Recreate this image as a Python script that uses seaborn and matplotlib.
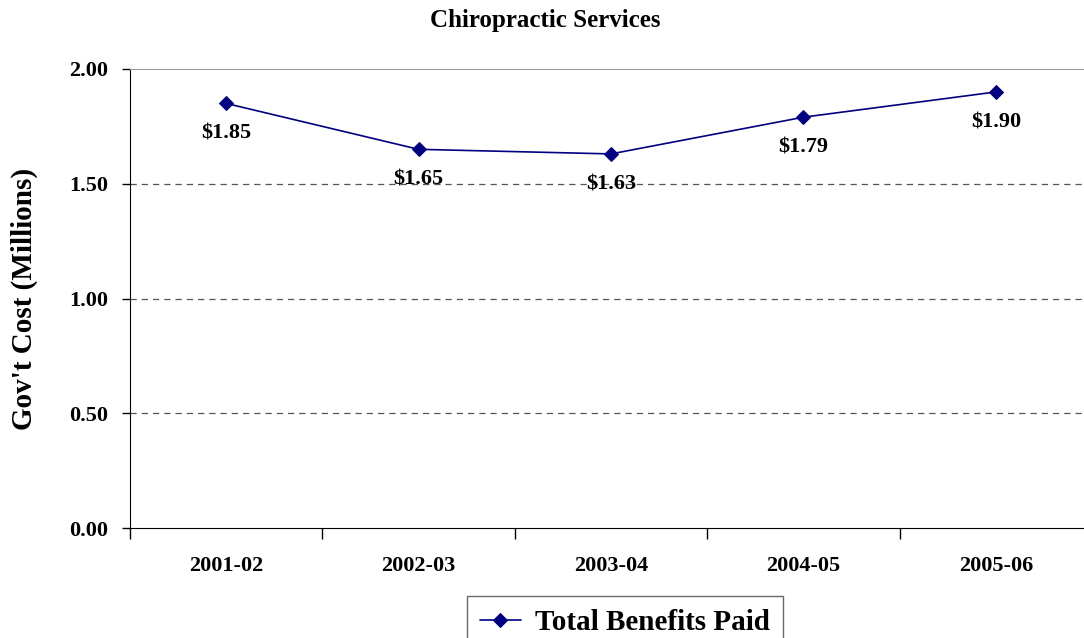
import matplotlib
matplotlib.use('Agg')
import matplotlib.pyplot as plt
import seaborn as sns
import pandas as pd

# 数据
years = ['2001-02', '2002-03', '2003-04', '2004-05', '2005-06']
benefits = [1.85, 1.65, 1.63, 1.79, 1.90]
series_name = 'Total Benefits Paid'

df = pd.DataFrame({'year': years, 'cost': benefits})
df['x'] = range(len(years))

sns.set_style('white')
plt.rcParams['font.family'] = ['Liberation Serif', 'DejaVu Serif']
plt.rcParams['font.weight'] = 'bold'
plt.rcParams['text.color'] = 'black'
plt.rcParams['xtick.color'] = 'black'
plt.rcParams['ytick.color'] = 'black'
plt.rcParams['axes.labelcolor'] = 'black'

fig = plt.figure(figsize=(10.84, 6.38), dpi=100)
ax = fig.add_axes([130 / 1084, 1 - 528 / 638, 962 / 1084, (528 - 69) / 638])

sns.lineplot(data=df, x='x', y='cost', ax=ax, color='#000080', marker='D',
             markersize=7, linewidth=1.2, markeredgecolor='#000080',
             label=series_name, legend=False)

for xi, v in zip(df['x'], df['cost']):
    ax.annotate(f'${v:.2f}', (xi, v), xytext=(0, -22), textcoords='offset points',
                ha='center', va='center', fontsize=16, fontweight='bold')

ax.set_xlim(-0.5, len(years) - 0.5)
ax.set_ylim(0, 2.0)
ax.set_yticks([0, 0.5, 1.0, 1.5, 2.0])
ax.set_yticklabels([f'{t:.2f}' for t in [0, 0.5, 1.0, 1.5, 2.0]], fontsize=16, fontweight='bold')
ax.set_xticks(range(len(years)))
ax.set_xticklabels(years, fontsize=16, fontweight='bold')
ax.tick_params(axis='x', length=0, pad=20)
ax.tick_params(axis='y', length=6, width=1, direction='out', left=True, pad=10)
# 分类边界刻度
ax.set_xticks([i - 0.5 for i in range(len(years))], minor=True)
ax.tick_params(axis='x', which='minor', length=8, width=1, direction='out', bottom=True)

for g in [0.5, 1.0, 1.5]:
    ax.axhline(g, color='#555555', linestyle=(0, (5, 4)), linewidth=0.9, zorder=0)

ax.spines['left'].set_color('black')
ax.spines['bottom'].set_color('black')
ax.spines['top'].set_color('#999999')
ax.spines['right'].set_visible(False)

ax.set_xlabel('')
ax.set_ylabel("Gov't Cost (Millions)", fontsize=21, fontweight='bold')
ax.yaxis.set_label_coords(-92 / 962, 0.5)
fig.text(545 / 1084, 1 - 20 / 638, 'Chiropractic Services', ha='center', va='center',
         fontsize=18, fontweight='bold')

handles, labels = ax.get_legend_handles_labels()
leg = fig.legend(handles, labels, loc='upper center', bbox_to_anchor=(625 / 1084, 1 - 596 / 638),
                 borderaxespad=0, frameon=True, fancybox=False, edgecolor='#444444',
                 prop={'size': 21, 'weight': 'bold'}, handlelength=1.4, handletextpad=0.5,
                 borderpad=0.45)
leg.get_frame().set_linewidth(1.0)

fig.savefig('out.png', dpi=100)
